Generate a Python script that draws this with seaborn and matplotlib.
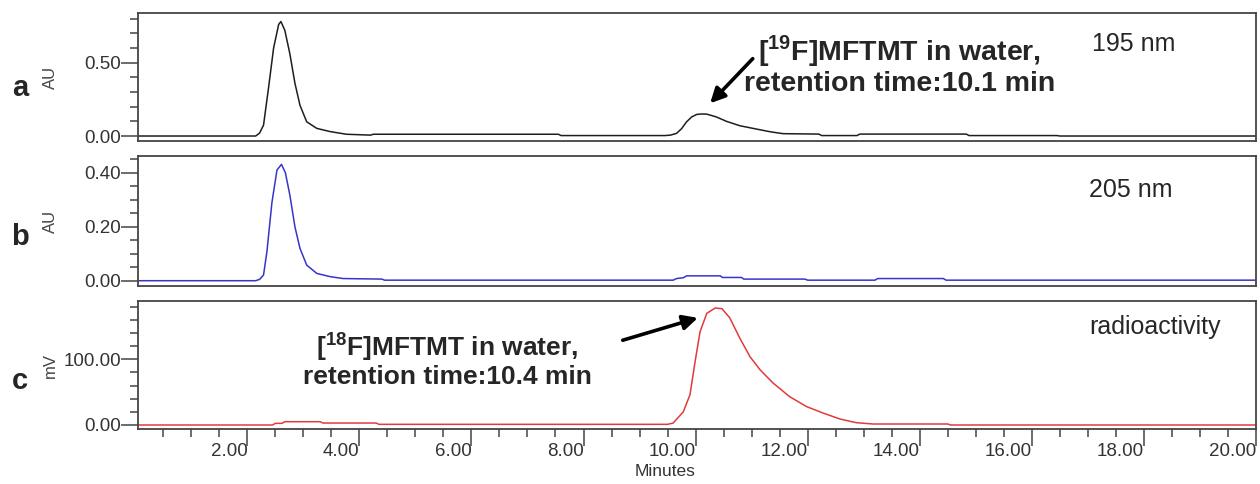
import matplotlib
matplotlib.use("Agg")
import matplotlib.pyplot as plt
from matplotlib.ticker import MultipleLocator, FormatStrFormatter, NullLocator
import seaborn as sns

# 195 nm trace (panel a)
t_195 = [0.05, 2.15, 2.22, 2.29, 2.38, 2.47, 2.56, 2.60, 2.67, 2.76, 2.85, 2.94,
         3.06, 3.24, 3.48, 3.77, 4.2, 4.25, 7.55, 7.6, 9.45, 9.55, 9.66, 9.75,
         9.84, 9.93, 10.02, 10.1, 10.2, 10.37, 10.55, 10.79, 11.09, 11.33, 11.56,
         12.2, 12.25, 12.88, 12.93, 14.83, 14.88, 16.45, 16.5, 20.0]
au_195 = [0.0, 0.0, 0.02, 0.074, 0.33, 0.60, 0.76, 0.78, 0.72, 0.56, 0.36, 0.21,
          0.097, 0.052, 0.03, 0.012, 0.006, 0.012, 0.012, 0.003, 0.003, 0.006, 0.018, 0.05,
          0.097, 0.13, 0.147, 0.150, 0.149, 0.13, 0.10, 0.07, 0.047, 0.029, 0.016,
          0.013, 0.003, 0.003, 0.013, 0.013, 0.003, 0.003, 0.0, 0.0]

# 205 nm trace (panel b)
t_205 = [0.05, 2.15, 2.22, 2.29, 2.35, 2.44, 2.53, 2.61, 2.68, 2.76, 2.85, 2.94,
         3.06, 3.24, 3.48, 3.71, 4.4, 4.45, 9.6, 9.66, 9.78, 9.84, 10.44, 10.48,
         10.82, 10.86, 11.95, 12.0, 13.2, 13.25, 14.42, 14.47, 20.0]
au_205 = [0.0, 0.0, 0.005, 0.021, 0.107, 0.29, 0.41, 0.431, 0.40, 0.317, 0.20, 0.12,
          0.058, 0.027, 0.015, 0.008, 0.006, 0.002, 0.002, 0.008, 0.011, 0.018, 0.018, 0.012,
          0.012, 0.006, 0.006, 0.002, 0.002, 0.008, 0.008, 0.002, 0.002]

# radioactivity trace (panel c)
t_rad = [0.05, 2.45, 2.5, 2.62, 2.67, 3.3, 3.35, 4.3, 4.35, 9.5, 9.6, 9.78, 9.9,
         9.99, 10.08, 10.2, 10.35, 10.47, 10.61, 10.79, 10.97, 11.15, 11.38, 11.68,
         11.98, 12.28, 12.58, 12.87, 13.17, 14.5, 14.55, 20.0]
mv_rad = [0.0, 0.0, 2.5, 2.5, 5.0, 5.0, 3.0, 3.0, 1.0, 1.0, 3.0, 20.0, 46.0,
          96.0, 142.0, 170.0, 178.0, 177.0, 163.0, 132.0, 104.0, 84.0, 64.0, 43.0,
          28.0, 18.0, 9.0, 3.5, 1.5, 1.5, 0.0, 0.0]

panel_letters = ["a", "b", "c"]
y_labels = ["AU", "AU", "mV"]
detectors = ["195 nm", "205 nm", "radioactivity"]

sns.set_style("white")
plt.rcParams["font.family"] = ["Liberation Sans", "DejaVu Sans"]
plt.rcParams["mathtext.fontset"] = "custom"
plt.rcParams["mathtext.rm"] = "Liberation Sans"
plt.rcParams["mathtext.bf"] = "Liberation Sans:bold"

fig = plt.figure(figsize=(12.6, 4.84), dpi=100)
W, H = 1260, 484


def add_axes(top, bottom):
    return fig.add_axes([138 / W, 1 - bottom / H, 1118 / W, (bottom - top) / H])


ax_a = add_axes(13, 141)
ax_b = add_axes(156, 286)
ax_c = add_axes(301, 429)
axes = [ax_a, ax_b, ax_c]

sns.lineplot(x=t_195, y=au_195, ax=ax_a, color="#1e1e1e", linewidth=1.1,
             sort=False, estimator=None)
sns.lineplot(x=t_205, y=au_205, ax=ax_b, color="#3535cc", linewidth=1.1,
             sort=False, estimator=None)
sns.lineplot(x=t_rad, y=mv_rad, ax=ax_c, color="#e23a3a", linewidth=1.1,
             sort=False, estimator=None)

ax_a.set_ylim(-0.034, 0.838)
ax_b.set_ylim(-0.0196, 0.462)
ax_c.set_ylim(-6.1, 188.7)

ax_a.yaxis.set_major_locator(MultipleLocator(0.5))
ax_a.yaxis.set_minor_locator(MultipleLocator(0.1))
ax_b.yaxis.set_major_locator(MultipleLocator(0.2))
ax_b.yaxis.set_minor_locator(MultipleLocator(0.05))
ax_c.yaxis.set_major_locator(MultipleLocator(100))
ax_c.yaxis.set_minor_locator(MultipleLocator(20))

for ax, lab in zip(axes, y_labels):
    ax.set_xlim(0.05, 20.0)
    ax.yaxis.set_major_formatter(FormatStrFormatter("%.2f"))
    for side in ax.spines:
        ax.spines[side].set_color("#444444")
        ax.spines[side].set_linewidth(1.3)
    ax.tick_params(axis="y", which="major", left=True, length=12, width=1.1,
                   color="#444444", labelsize=13.5, labelcolor="#333333", pad=0)
    ax.tick_params(axis="y", which="minor", left=True, length=6, width=1.1,
                   color="#444444")
    ax.set_ylabel(lab, fontsize=12, color="#444444")
    ax.yaxis.set_label_coords(-0.072, 0.5)

for ax in [ax_a, ax_b]:
    ax.xaxis.set_major_locator(NullLocator())
    ax.xaxis.set_minor_locator(NullLocator())

ax_c.xaxis.set_major_locator(MultipleLocator(2))
ax_c.xaxis.set_minor_locator(MultipleLocator(0.5))
ax_c.xaxis.set_major_formatter(FormatStrFormatter("%.2f"))
ax_c.tick_params(axis="x", which="major", bottom=True, length=12, width=1.1,
                 color="#444444", labelsize=13.5, labelcolor="#333333", pad=-2)
ax_c.tick_params(axis="x", which="minor", bottom=True, length=6, width=1.1,
                 color="#444444")
for lbl in ax_c.get_xticklabels():
    lbl.set_horizontalalignment("right")
ax_c.set_xlabel("Minutes", fontsize=12.5, color="#333333", x=0.4988, ha="right",
                labelpad=3)

# detector names
ax_a.text(17.07, 0.628, detectors[0], fontsize=18, va="center", ha="left")
ax_b.text(17.02, 0.336, detectors[1], fontsize=18, va="center", ha="left")
ax_c.text(17.02, 149, detectors[2], fontsize=18, va="center", ha="left")

# panel letters
for letter, yc in zip(panel_letters, [88, 237, 381]):
    fig.text(20 / W, 1 - yc / H, letter, fontsize=21, fontweight="bold",
             ha="center", va="center")

# peak annotations
arrow = dict(arrowstyle="-|>", lw=2.6, color="black", mutation_scale=22,
             shrinkA=0, shrinkB=0)
ax_a.annotate("", xy=(10.26, 0.223), xytext=(11.02, 0.527), arrowprops=arrow)
ax_a.text(13.64, 0.486, "[$^{\\mathbf{19}}$F]MFTMT in water,\nretention time:10.1 min",
          fontsize=20.5, fontweight="bold", ha="center", va="center",
          multialignment="center", linespacing=1.1)
ax_c.annotate("", xy=(10.04, 163), xytext=(8.70, 129), arrowprops=arrow)
ax_c.text(5.57, 99, "[$^{\\mathbf{18}}$F]MFTMT in water,\nretention time:10.4 min",
          fontsize=19, fontweight="bold", ha="center", va="center",
          multialignment="center", linespacing=1.1)

fig.savefig("out.png", dpi=100)
